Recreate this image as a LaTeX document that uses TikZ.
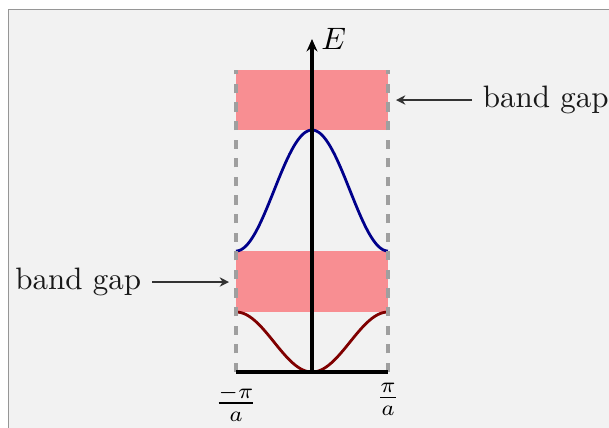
\documentclass[tikz,border=0pt]{standalone}
\usetikzlibrary{arrows.meta}
\definecolor{bgcol}{RGB}{242,242,242}
\definecolor{framecol}{RGB}{150,150,150}
\definecolor{gapcol}{RGB}{248,142,146}
\definecolor{bandblue}{RGB}{0,0,139}
\definecolor{bandred}{RGB}{128,0,0}
\tikzset{
  gapbox/.style={fill=gapcol, draw=none},
  zoneline/.style={dashed, line width=1pt, draw=gray!75},
  axisline/.style={line width=1pt, black},
  bandcurve/.style={line width=0.9pt, smooth},
  gaplabel/.style={font=\normalsize, text=black!90},
  gaparrow/.style={-{Stealth[length=3pt, width=3pt]}, black!80, line width=0.5pt},
}
\begin{document}
\begin{tikzpicture}[x=0.3226pt, y=-0.3226pt]
\useasboundingbox (0,0) rectangle (609,427);
\filldraw[fill=bgcol, draw=framecol, line width=0.4pt] (8.5,9.5) rectangle (640,460);
% coordinates
\coordinate (bl) at (236,372);
\coordinate (br) at (388,372);
\coordinate (bc) at (312,372);
\coordinate (top) at (312,39);
\coordinate (tl) at (236,70);
\coordinate (tr) at (388,70);
% band gaps
\fill[gapbox] (236,70) rectangle (388,130);
\fill[gapbox] (236,251) rectangle (388,312);
% curves
\draw[bandcurve, bandred] plot[domain=-1:1, samples=120] ({312+76*\x}, {342+30*cos(180*\x)});
\draw[bandcurve, bandblue] plot[domain=-1:1, samples=120] ({312+76*\x}, {190.5-60.5*cos(180*\x)});
% zone boundaries
\draw[zoneline] (bl) -- (tl);
\draw[zoneline] (br) -- (tr);
% axes
\draw[axisline] (bl) -- (br);
\draw[axisline, -{Stealth[length=4pt, width=3.5pt]}] (bc) -- (top) node[right, inner sep=2.5pt] (E) {$E$};
% tick labels
\node[below, inner sep=4pt] (lk) at (bl) {$\frac{-\pi}{a}$};
\node[below, inner sep=3.5pt] (rk) at (br) {$\frac{\pi}{a}$};
% band gap annotations
\coordinate (lgap) at (229,282);
\coordinate (rgap) at (396,100);
\node[gaplabel, anchor=east] (lt) at (152,282) {band gap};
\node[gaplabel, anchor=west] (rt) at (472,100) {band gap};
\draw[gaparrow] (lt) -- (lgap);
\draw[gaparrow] (rt) -- (rgap);
\end{tikzpicture}
\end{document}
